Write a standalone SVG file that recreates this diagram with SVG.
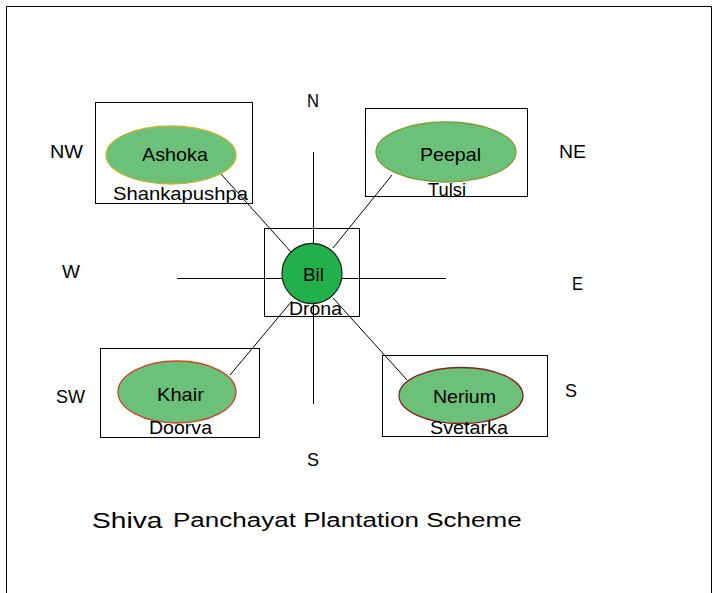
<svg xmlns="http://www.w3.org/2000/svg" width="713" height="593" viewBox="0 0 713 593">
<style>
text{font-family:"Liberation Sans",Arial,sans-serif;fill:#000;}
.box{fill:none;stroke:#000;stroke-width:1;}
.ln{stroke:#000;stroke-width:1;fill:none;}
.leaf{fill:#6bc07a;stroke-width:1.3;}
.lbl{font-size:19px;}
.dir{font-size:18px;}
</style>
<rect width="713" height="593" fill="#fff"/>
<g id="frame">
<path class="ln" d="M6.5,593 V6.5 H711.5 V593"/>
</g>
<g id="boxes">
<rect class="box" x="95.5" y="102.5" width="157" height="101"/>
<rect class="box" x="365.5" y="108.5" width="162" height="88"/>
<rect class="box" x="264.5" y="228.5" width="95" height="88"/>
<rect class="box" x="100.5" y="348.5" width="159" height="89"/>
<rect class="box" x="382.5" y="355.5" width="165" height="81"/>
</g>
<g id="connectors">
<line class="ln" x1="313.5" y1="152" x2="313.5" y2="404"/>
<line class="ln" x1="177" y1="278.5" x2="446" y2="278.5"/>
<line class="ln" x1="221" y1="174" x2="291" y2="252"/>
<line class="ln" x1="392" y1="175" x2="333" y2="248"/>
<line class="ln" x1="230" y1="375" x2="292" y2="301"/>
<line class="ln" x1="333" y1="298" x2="407" y2="380"/>
</g>
<g id="node-ashoka">
<ellipse class="leaf" cx="171" cy="155" rx="65" ry="29" stroke="#c9b52a"/>
<text class="lbl" x="142" y="161" textLength="66" lengthAdjust="spacingAndGlyphs">Ashoka</text>
<text class="lbl" x="113" y="200" textLength="135" lengthAdjust="spacingAndGlyphs">Shankapushpa</text>
</g>
<g id="node-peepal">
<ellipse class="leaf" cx="446" cy="152" rx="70" ry="30" stroke="#7f9c34"/>
<text class="lbl" x="420" y="161" textLength="61" lengthAdjust="spacingAndGlyphs">Peepal</text>
<text class="lbl" x="428" y="196" textLength="38" lengthAdjust="spacingAndGlyphs">Tulsi</text>
</g>
<g id="node-bil">
<circle cx="312" cy="273.5" r="30" fill="#22b04b" stroke="#1e2e1e" stroke-width="1.3"/>
<text class="lbl" x="303" y="281" textLength="21" lengthAdjust="spacingAndGlyphs">Bil</text>
<text class="lbl" x="289" y="315" textLength="53" lengthAdjust="spacingAndGlyphs">Drona</text>
</g>
<g id="node-khair">
<ellipse class="leaf" cx="177" cy="392" rx="59" ry="31" stroke="#cf4524"/>
<text class="lbl" x="157" y="401" textLength="47" lengthAdjust="spacingAndGlyphs">Khair</text>
<text class="lbl" x="149" y="434" textLength="63" lengthAdjust="spacingAndGlyphs">Doorva</text>
</g>
<g id="node-nerium">
<ellipse class="leaf" cx="461" cy="395.5" rx="62" ry="28" stroke="#8a1f1f"/>
<text class="lbl" x="433" y="403" textLength="63" lengthAdjust="spacingAndGlyphs">Nerium</text>
<text class="lbl" x="430" y="434" textLength="78" lengthAdjust="spacingAndGlyphs">Svetarka</text>
</g>
<g id="directions">
<text class="dir" x="307" y="107" textLength="12" lengthAdjust="spacingAndGlyphs">N</text>
<text class="dir" x="50" y="158" textLength="33" lengthAdjust="spacingAndGlyphs">NW</text>
<text class="dir" x="559" y="158" textLength="27" lengthAdjust="spacingAndGlyphs">NE</text>
<text class="dir" x="62" y="278" textLength="18" lengthAdjust="spacingAndGlyphs">W</text>
<text class="dir" x="572" y="290" textLength="11" lengthAdjust="spacingAndGlyphs">E</text>
<text class="dir" x="56" y="403" textLength="29" lengthAdjust="spacingAndGlyphs">SW</text>
<text class="dir" x="565" y="397" textLength="12" lengthAdjust="spacingAndGlyphs">S</text>
<text class="dir" x="307" y="466" textLength="12" lengthAdjust="spacingAndGlyphs">S</text>
</g>
<g id="title">
<text transform="translate(92,528) scale(1.28,1)" font-size="22">Shiva</text>
<text transform="translate(173,527) scale(1.24,1)" font-size="21">Panchayat Plantation Scheme</text>
</g>
</svg>
